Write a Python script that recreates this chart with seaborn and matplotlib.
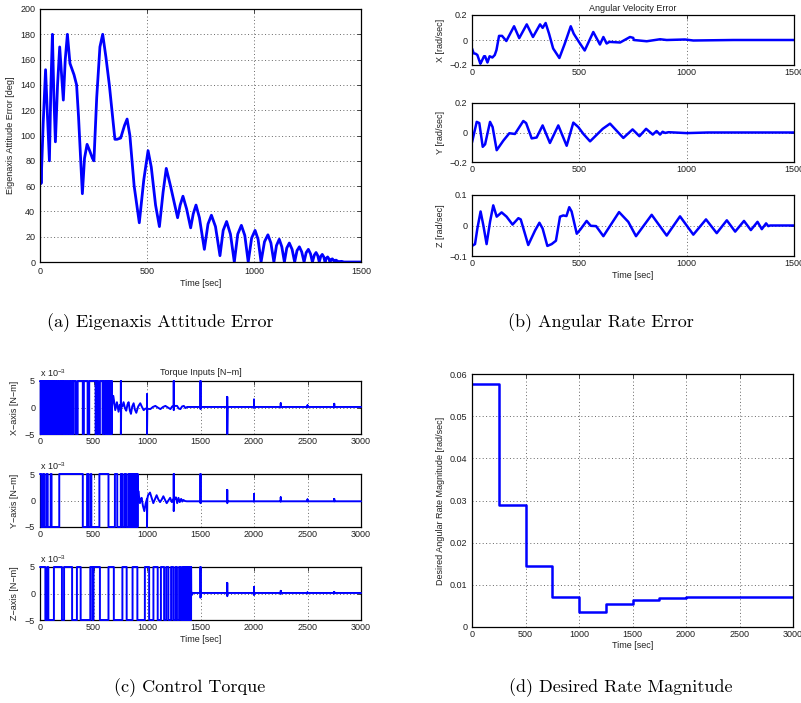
import numpy as np
import matplotlib
matplotlib.use("Agg")
import matplotlib.pyplot as plt
import seaborn as sns

# ---------------- data ----------------
# (a) Eigenaxis attitude error [deg]
a_t = [0, 5, 15, 26, 35, 44, 51, 58, 65, 72, 82, 92, 100, 109, 118, 128, 140, 159, 171, 180,
       198, 208, 220, 232, 245, 252, 265, 280, 293, 308, 324, 350, 360, 377, 395, 407, 420, 440,
       464, 485, 505, 520, 540, 558, 575, 590, 610, 643, 655, 668, 685, 704, 716, 729, 745, 768,
       785, 801, 820, 841, 856, 872, 890, 908, 924, 941, 957, 973, 989, 1005, 1019, 1033, 1049,
       1065, 1079, 1093, 1105, 1118, 1130, 1142, 1153, 1165, 1178, 1190, 1201, 1212, 1223, 1234,
       1244, 1254, 1264, 1273, 1282, 1290, 1298, 1305, 1312, 1319, 1326, 1332, 1338, 1344, 1350,
       1355, 1361, 1366, 1371, 1375, 1383, 1394, 1410, 1420, 1500]
a_v = [90, 62, 110, 152, 115, 80, 140, 180, 130, 95, 140, 170, 150, 128, 160, 180, 157, 148, 140, 115,
       54, 82, 93, 88, 82, 80, 130, 170, 180, 162, 140, 97, 97, 98, 108, 113, 100, 60,
       31, 65, 88, 75, 45, 28, 55, 74, 60, 35, 45, 52, 42, 27, 38, 45, 35, 10,
       30, 37, 28, 5, 25, 32, 22, 0, 22, 29, 21, 0, 19, 25, 18, 0, 16,
       21.5, 15, 0, 13, 18, 12, 0, 11, 15, 10, 0, 9, 12, 8, 0,
       7.5, 10, 6.5, 0, 5.5, 7.5, 5, 0, 4.5, 6, 4, 0, 3, 4, 2.5,
       0, 2, 2.5, 1.5, 0, 1.5, 0.3, 0.5, 0, 0]

# (b) angular velocity error [rad/sec]
bx_t = [0, 8, 17, 25, 39, 45, 56, 61, 72, 82, 95, 106, 114, 126, 140, 160, 196, 220, 255, 284,
        317, 329, 343, 359, 378, 407, 432, 460, 474, 498, 525, 565, 596, 612, 627, 640, 690, 736,
        751, 754, 814, 876, 907, 992, 1031, 1218, 1500]
bx_v = [-0.068, -0.107, -0.11, -0.12, -0.19, -0.17, -0.13, -0.13, -0.18, -0.13, -0.14, -0.12, -0.08,
        0.033, 0.033, -0.008, 0.11, 0.015, 0.125, 0.024, 0.125, 0.097, 0.136, 0.05, -0.068, -0.144,
        -0.03, 0.11, 0.05, -0.015, -0.084, 0.064, -0.036, 0.024, -0.028, -0.015, -0.02, 0.024,
        0.017, 0.0, -0.01, 0.006, 0.0, 0.004, -0.004, 0.0, 0.0]

by_t = [0, 22, 34, 50, 61, 84, 96, 115, 146, 174, 200, 239, 252, 278, 301, 329, 363, 402, 441,
        472, 495, 519, 550, 609, 643, 705, 748, 780, 811, 842, 860, 876, 888, 900, 915, 1000,
        1100, 1500]
by_v = [-0.067, 0.072, 0.064, -0.097, -0.08, 0.072, 0.037, -0.12, -0.055, -0.005, -0.01, 0.078,
        0.064, -0.04, -0.034, 0.048, -0.071, 0.048, -0.09, 0.067, 0.037, -0.01, -0.06, 0.025, 0.06,
        -0.037, 0.021, -0.025, 0.025, -0.014, 0.01, -0.014, 0.005, -0.003, 0.002, -0.004, 0.0, 0.0]

bz_t = [0, 14, 25, 40, 53, 68, 84, 99, 115, 138, 161, 189, 216, 227, 262, 294, 314, 329, 351,
        371, 391, 410, 425, 440, 453, 464, 488, 506, 534, 553, 578, 612, 685, 728, 764, 837, 907,
        969, 1031, 1090, 1140, 1187, 1226, 1267, 1299, 1330, 1350, 1370, 1380, 1389, 1500]
bz_v = [-0.067, -0.061, -0.01, 0.046, 0.0, -0.061, 0.012, 0.066, 0.029, 0.043, 0.029, 0.003,
        0.024, 0.02, -0.064, -0.016, 0.009, -0.01, -0.067, -0.061, -0.05, 0.029, 0.033, 0.031,
        0.06, 0.046, -0.027, -0.012, 0.015, -0.001, -0.002, -0.035, 0.044, 0.012, -0.035, 0.035,
        -0.033, 0.03, -0.03, 0.02, -0.025, 0.017, -0.02, 0.015, -0.015, 0.012, -0.012, 0.007,
        -0.002, 0.0, 0.0]

# (c) torque inputs, in units of 1e-3 N-m
TMAX = 5.0
tx_switch = [0, 6, 10, 16, 20, 26, 31, 37, 42, 48, 53, 60, 66, 72, 78, 85, 92, 100, 108, 116, 125,
             132, 140, 150, 160, 168, 178, 190, 198, 212, 222, 232, 245, 255, 268, 280, 292, 305,
             315, 335, 352, 400, 410, 445, 460, 520, 530, 545, 560, 585, 595, 610, 618, 628, 634,
             642, 648, 652, 657, 661, 665, 668, 671]
tx_osc_t = [672, 685, 695, 703, 719, 734, 745, 770, 781, 795, 806, 818, 828, 840, 850, 862, 875,
            887, 900, 918, 937, 953, 969, 985, 1031, 1055, 1078, 1100, 1125, 1150, 1172, 1195,
            1219, 1235, 1266, 1281, 1297, 1312, 1328, 1344, 1360, 1375, 1390, 3000]
tx_osc_v = [0.0, 2.2, 0.8, -0.5, 1.0, -0.8, 0.5, 0.2, 1.0, -0.2, -0.6, 0.6, 1.0, -0.6, -1.2, 0.2,
            0.8, -0.4, -1.0, 0.2, 0.8, 0.1, -0.5, -0.2, -0.3, 0.1, 0.3, 0.0, -0.3, 0.1, 0.3, 0.0,
            -0.3, 0.2, 0.3, 0.3, -0.2, -0.3, 0.2, 0.3, -0.1, 0.1, 0.1, 0.1]
tx_spike_t = [756, 1000, 1250, 1500, 1750, 2000, 2250, 2500, 2750]
tx_spike_hi = [5.0, 2.5, 5.0, 5.0, 2.0, 1.5, 0.8, 0.4, 0.7]
tx_spike_lo = [-5.0, -5.0, -0.5, -0.3, -5.0, -0.1, 0.0, 0.0, 0.0]

ty_switch = [0, 12, 28, 40, 60, 72, 100, 108, 180, 400, 440, 455, 475, 480, 555, 640, 700, 722,
             755, 770, 790, 805, 825, 835, 845, 853, 860, 867, 873, 879, 884, 889, 893, 897, 901,
             904, 907, 910, 912]
ty_osc_t = [913, 919, 927, 934, 942, 950, 962, 975, 988, 1010, 1028, 1043, 1059, 1075, 1090, 1106,
            1122, 1138, 1153, 1169, 1184, 1200, 1216, 1232, 1245, 1262, 1270, 1282, 1294, 1306,
            1319, 1330, 1340, 1355, 1372, 3000]
ty_osc_v = [0.0, 1.8, 0.5, -0.5, 0.3, 0.5, -1.0, -2.0, -0.5, 1.0, 1.5, 0.5, -0.5, 0.3, 1.0, 0.2,
            -0.3, 0.2, 0.8, 0.1, -0.5, 0.0, 0.5, -0.3, 0.2, 0.3, 0.6, -0.5, 0.5, -0.3, 0.3, -0.2,
            0.1, -0.1, -0.15, -0.15]
ty_spike_t = [1000, 1250, 1500, 1750, 2000, 2250, 2500, 2750]
ty_spike_hi = [0.0, 5.0, 5.0, 2.0, 1.2, 0.6, 0.2, 0.3]
ty_spike_lo = [-5.0, -2.0, -0.5, -0.5, -0.2, -0.2, -0.15, -0.15]

tz_switch = [0, 50, 68, 78, 130, 205, 225, 300, 345, 380, 470, 490, 500, 560, 640, 690, 770, 810,
             865, 910, 980, 1020, 1060, 1100, 1130, 1160, 1180, 1200, 1225, 1245, 1265, 1280, 1300,
             1315, 1330, 1340, 1350, 1360, 1368, 1376, 1383, 1390, 1396, 1401, 1405, 1409, 1412]
tz_osc_t = [1413, 1418, 1425, 1440, 3000]
tz_osc_v = [0.5, -0.3, 0.1, 0.1, 0.1]
tz_spike_t = [1500, 1750, 2000, 2250, 2500, 2750]
tz_spike_hi = [5.0, 2.0, 1.2, 0.5, 0.2, 0.3]
tz_spike_lo = [-0.8, -0.5, -0.3, -0.1, 0.0, 0.0]

# (d) desired angular rate magnitude [rad/sec]
d_t = [0, 250, 500, 750, 1000, 1250, 1500, 1750, 2000, 2250, 2500, 2750, 3000]
d_v = [0.0577, 0.0289, 0.0144, 0.0072, 0.0036, 0.0054, 0.0063, 0.0068, 0.0070, 0.0071, 0.0072,
       0.0072, 0.0072]

captions = ["(a) Eigenaxis Attitude Error", "(b) Angular Rate Error",
            "(c) Control Torque", "(d) Desired Rate Magnitude"]

# ---------------- style ----------------
sns.set_theme(style="white")
plt.rcParams["font.family"] = ["Liberation Sans", "DejaVu Sans"]
plt.rcParams["mathtext.fontset"] = "custom"
plt.rcParams["mathtext.rm"] = "Liberation Sans"
plt.rcParams["axes.unicode_minus"] = True

W, H = 801, 703
fig = plt.figure(figsize=(W / 100, H / 100), dpi=100)
BLUE = "#0000ff"
FS = 6.5
TXT = "#202020"


def add_ax(l, t, r, b):
    return fig.add_axes([l / W, 1 - b / H, (r - l) / W, (b - t) / H])


def style(ax, xlim, xticks, ylim, yticks, yfmt=None):
    ax.set_xlim(xlim)
    ax.set_ylim(ylim)
    ax.set_xticks(xticks)
    ax.set_yticks(yticks)
    if yfmt is not None:
        ax.set_yticklabels(yfmt)
    ax.grid(True, linestyle=(0, (1, 2.5)), color="0.4", lw=0.7)
    ax.tick_params(direction="in", length=3, width=0.6, top=True, right=True,
                   labelsize=FS, pad=3.5, labelcolor=TXT)
    for s in ax.spines.values():
        s.set_linewidth(0.9)
        s.set_color("black")
    ax.set_xlabel("")
    ax.set_ylabel("")


def line(ax, t, v, lw, **kw):
    sns.lineplot(x=np.asarray(t, float), y=np.asarray(v, float), ax=ax, color=BLUE, lw=lw,
                 estimator=None, sort=False, legend=False, **kw)


def ylab(ax, text, xpix):
    ax.set_ylabel(text, fontsize=FS, color=TXT)
    bb = ax.get_position()
    ax.yaxis.set_label_coords((xpix / W - bb.x0) / bb.width, 0.5)


def torque_series(switch, osc_t, osc_v, sp_t, sp_hi, sp_lo):
    t, v = [], []
    lev = TMAX
    for i, s in enumerate(switch):
        if i > 0:
            t.append(s)
            v.append(lev)
            lev = -lev
        t.append(s)
        v.append(lev)
    tail = [(a, 0, b) for a, b in zip(osc_t, osc_v)]
    for s, hi, lo in zip(sp_t, sp_hi, sp_lo):
        base = np.interp(s, osc_t, osc_v)
        tail += [(s, 1, base), (s, 2, hi), (s, 3, lo), (s + 3, 4, base)]
    tail.sort(key=lambda p: (p[0], p[1]))
    t += [p[0] for p in tail]
    v += [p[2] for p in tail]
    return t, v


# ---------------- (a) ----------------
axa = add_ax(40, 9, 361, 262)
line(axa, a_t, a_v, 2.0)
style(axa, (0, 1500), [0, 500, 1000, 1500], (0, 200), list(range(0, 201, 20)))
axa.set_xlabel("Time [sec]", fontsize=FS, color=TXT, labelpad=2)
ylab(axa, "Eigenaxis Attitude Error [deg]", 15)

# ---------------- (b) ----------------
bpos = [(15, 65), (103, 162), (195, 256)]
bdata = [(bx_t, bx_v, "X [rad/sec]", (-0.2, 0.2), [-0.2, 0, 0.2], ["−0.2", "0", "0.2"]),
         (by_t, by_v, "Y [rad/sec]", (-0.2, 0.2), [-0.2, 0, 0.2], ["−0.2", "0", "0.2"]),
         (bz_t, bz_v, "Z [rad/sec]", (-0.1, 0.1), [-0.1, 0, 0.1], ["−0.1", "0", "0.1"])]
for (top, bot), (t, v, lab, yl, yt, yf) in zip(bpos, bdata):
    ax = add_ax(472, top, 794, bot)
    line(ax, t, v, 1.8)
    style(ax, (0, 1500), [0, 500, 1000, 1500], yl, yt, yf)
    ax.tick_params(axis="x", pad=2.5)
    ylab(ax, lab, 445)
    if top == 15:
        ax.set_title("Angular Velocity Error", fontsize=FS, color=TXT, pad=3)
    if top == 195:
        ax.set_xlabel("Time [sec]", fontsize=FS, color=TXT, labelpad=1.5)

# ---------------- (c) ----------------
cpos = [(381, 434), (474, 527), (567, 620)]
cdata = [(torque_series(tx_switch, tx_osc_t, tx_osc_v, tx_spike_t, tx_spike_hi, tx_spike_lo),
          "X−axis [N−m]"),
         (torque_series(ty_switch, ty_osc_t, ty_osc_v, ty_spike_t, ty_spike_hi, ty_spike_lo),
          "Y−axis [N−m]"),
         (torque_series(tz_switch, tz_osc_t, tz_osc_v, tz_spike_t, tz_spike_hi, tz_spike_lo),
          "Z−axis [N−m]")]
for (top, bot), ((t, v), lab) in zip(cpos, cdata):
    ax = add_ax(40, top, 361, bot)
    line(ax, t, v, 1.4, clip_on=False, zorder=3)
    style(ax, (0, 3000), list(range(0, 3001, 500)), (-5, 5), [-5, 0, 5], ["−5", "0", "5"])
    ax.tick_params(axis="x", pad=2.5)
    ylab(ax, lab, 19)
    ax.text(0.0, 1.03, r"x 10$^{\mathregular{−3}}$", transform=ax.transAxes, fontsize=FS,
            color=TXT, ha="left", va="bottom")
    if top == 381:
        ax.set_title("Torque Inputs [N−m]", fontsize=FS, color=TXT, pad=4)
    if top == 567:
        ax.set_xlabel("Time [sec]", fontsize=FS, color=TXT, labelpad=1.5)

# ---------------- (d) ----------------
axd = add_ax(472, 374, 793, 627)
line(axd, d_t, d_v, 1.8, drawstyle="steps-post")
style(axd, (0, 3000), list(range(0, 3001, 500)), (0, 0.06),
      [0, 0.01, 0.02, 0.03, 0.04, 0.05, 0.06],
      ["0", "0.01", "0.02", "0.03", "0.04", "0.05", "0.06"])
axd.tick_params(axis="x", pad=2.5)
axd.set_xlabel("Time [sec]", fontsize=FS, color=TXT, labelpad=1)
ylab(axd, "Desired Angular Rate Magnitude [rad/sec]", 445)

# ---------------- captions ----------------
cap_pos = [(160, 323), (601, 323), (190, 688), (621, 688)]
for (x, y), c in zip(cap_pos, captions):
    fig.text(x / W, 1 - y / H, c, fontfamily="cmr10", fontsize=13, ha="center", va="center",
             color="black")

fig.savefig("out.png", dpi=100)
